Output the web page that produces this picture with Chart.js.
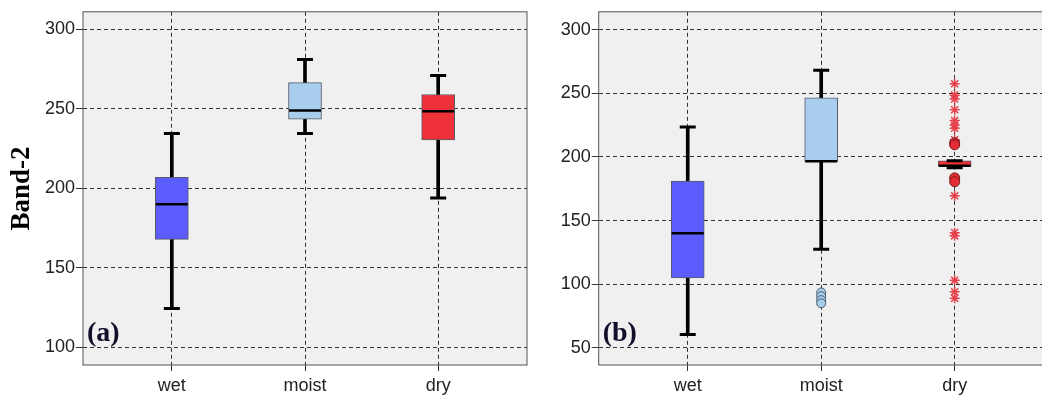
<!DOCTYPE html>
<html>
<head>
<meta charset="utf-8">
<script src="https://cdn.jsdelivr.net/npm/chart.js@4.4.1/dist/chart.umd.min.js"></script>
<style>
html, body { margin: 0; padding: 0; background: #fff; overflow: hidden; width: 1042px; height: 398px; }
#wrapA { position: absolute; left: 0; top: 0; width: 530px; height: 398px; }
#wrapB { position: absolute; left: 530px; top: 0; width: 520px; height: 398px; }
</style>
</head>
<body>
<div id="wrapA"><canvas id="chartA"></canvas></div>
<div id="wrapB"><canvas id="chartB"></canvas></div>
<script>
// categories and tick values
const categories = ['wet', 'moist', 'dry'];
const boxColors = ['#5c5cff', '#a9cdec', '#ee3139'];
const yTicksA = [100, 150, 200, 250, 300];
const yTicksB = [50, 100, 150, 200, 250, 300];

// panel (a) box stats
const minA = [124.5, 234.5, 194];
const q1A = [168, 243.5, 230.5];
const medA = [190, 249, 248.5];
const q3A = [207, 266.5, 259];
const maxA = [234.5, 281, 271];

// panel (b) box stats
const minB = [60.5, 127.5, 191.5];
const q1B = [105, 196.5, 192.7];
const medB = [140, 196.5, 193];
const q3B = [181, 246.5, 197];
const maxB = [223.5, 268, 197];

// panel (b) outliers
const moistCirclesB = [93.5, 90.5, 87.5, 85];
const dryCirclesB = [211, 209.5, 183.5, 180.5];
const dryStarsB = [257.5, 248.5, 245.5, 237, 228.5, 225, 222.5, 213.5, 169.5, 140.5, 138, 103, 94, 89];

const tickFont = { family: 'Liberation Sans', size: 18 };

const panelPlugin = {
    id: 'panel',
    beforeDraw(chart) {
        const a = chart.chartArea, ctx = chart.ctx;
        ctx.save();
        ctx.fillStyle = '#f0f0f0';
        ctx.fillRect(a.left, a.top, a.right - a.left, a.bottom - a.top);
        ctx.restore();
    },
    afterDraw(chart, args, opts) {
        const a = chart.chartArea, ctx = chart.ctx;
        ctx.save();
        ctx.strokeStyle = '#555';
        ctx.lineWidth = 1;
        ctx.strokeRect(a.left, a.top, a.right - a.left, a.bottom - a.top);
        ctx.fillStyle = '#10102a';
        ctx.font = 'bold 28px "Liberation Serif"';
        ctx.textBaseline = 'alphabetic';
        ctx.fillText(opts.label, a.left + 4, a.bottom - 24);
        ctx.restore();
    }
};

function xScale() {
    return {
        type: 'linear',
        offset: false,
        min: -0.667,
        max: 2.667,
        afterBuildTicks: s => { s.ticks = categories.map((c, i) => ({ value: i })); },
        afterFit: s => { s.height = 33; s.paddingLeft = 0; s.paddingRight = 0; },
        ticks: { callback: v => categories[v], color: '#222', font: tickFont, padding: 4, autoSkip: false, maxRotation: 0 },
        grid: { offset: false, color: '#333', lineWidth: 1, tickLength: 6, tickColor: '#333' },
        border: { display: false, dash: [4, 3] }
    };
}

function yScale(min, max, ticks, width, title) {
    return {
        min: min,
        max: max,
        afterBuildTicks: s => { s.ticks = ticks.map(v => ({ value: v })); },
        afterFit: s => { s.width = width; },
        ticks: { color: '#222', font: tickFont, padding: 1 },
        grid: { color: '#333', lineWidth: 1, tickLength: 7, tickColor: '#333' },
        border: { display: false, dash: [4, 3] },
        title: {
            display: !!title,
            text: title || '',
            color: '#000',
            font: { family: 'Liberation Serif', size: 27, weight: 'bold' },
            padding: { top: 6, bottom: 0 }
        }
    };
}

function boxDatasets(mins, q1s, meds, q3s, maxs) {
    return [
        {
            type: 'bar', order: 5, grouped: false, barThickness: 3,
            data: categories.map((c, i) => ({ x: i, y: [mins[i], maxs[i]] })),
            backgroundColor: '#000', borderWidth: 0
        },
        {
            type: 'bar', order: 4, grouped: false, barThickness: 33,
            data: categories.map((c, i) => ({ x: i, y: [q1s[i], q3s[i]] })),
            backgroundColor: boxColors, borderColor: '#575a68', borderWidth: 1, borderSkipped: false
        },
        {
            type: 'scatter', order: 3,
            data: categories.flatMap((c, i) => [{ x: i, y: mins[i] }, { x: i, y: maxs[i] }]),
            pointStyle: 'line', pointRadius: 8, pointBorderWidth: 3, pointBorderColor: '#000'
        },
        {
            type: 'scatter', order: 2,
            data: categories.map((c, i) => ({ x: i, y: meds[i] })),
            pointStyle: 'line', pointRadius: 16, pointBorderWidth: 2.5, pointBorderColor: '#000'
        }
    ];
}

function makeChart(id, datasets, yMin, yMax, yTicks, yWidth, title, label, padRight) {
    return new Chart(document.getElementById(id).getContext('2d'), {
        type: 'bar',
        data: { datasets: datasets },
        options: {
            responsive: true,
            maintainAspectRatio: false,
            animation: false,
            events: [],
            layout: { autoPadding: false, padding: { top: 9.5, right: padRight, bottom: 0, left: 0 } },
            scales: { x: xScale(), y: yScale(yMin, yMax, yTicks, yWidth, title) },
            plugins: { legend: { display: false }, tooltip: { enabled: false }, panel: { label: label } }
        },
        plugins: [panelPlugin]
    });
}

makeChart('chartA', boxDatasets(minA, q1A, medA, q3A, maxA), 89, 311, yTicksA, 83, 'Band-2', '(a)', 3);

const datasetsB = boxDatasets(minB, q1B, medB, q3B, maxB).concat([
    {
        type: 'scatter', order: 1,
        data: moistCirclesB.map(v => ({ x: 1, y: v })),
        pointStyle: 'circle', pointRadius: 4.5, pointBackgroundColor: '#a9cdec', pointBorderColor: '#4b5d70', pointBorderWidth: 1
    },
    {
        type: 'scatter', order: 1,
        data: dryCirclesB.map(v => ({ x: 2, y: v })),
        pointStyle: 'circle', pointRadius: 5, pointBackgroundColor: '#e32d36', pointBorderColor: '#7a1a1a', pointBorderWidth: 1
    },
    {
        type: 'scatter', order: 1,
        data: dryStarsB.map(v => ({ x: 2, y: v })),
        pointStyle: 'star', pointRadius: 5, pointBorderColor: '#e6414b', pointBorderWidth: 1.5
    }
]);

makeChart('chartB', datasetsB, 36.5, 314, yTicksB, 68.7, '', '(b)', 6.3);
</script>
</body>
</html>
